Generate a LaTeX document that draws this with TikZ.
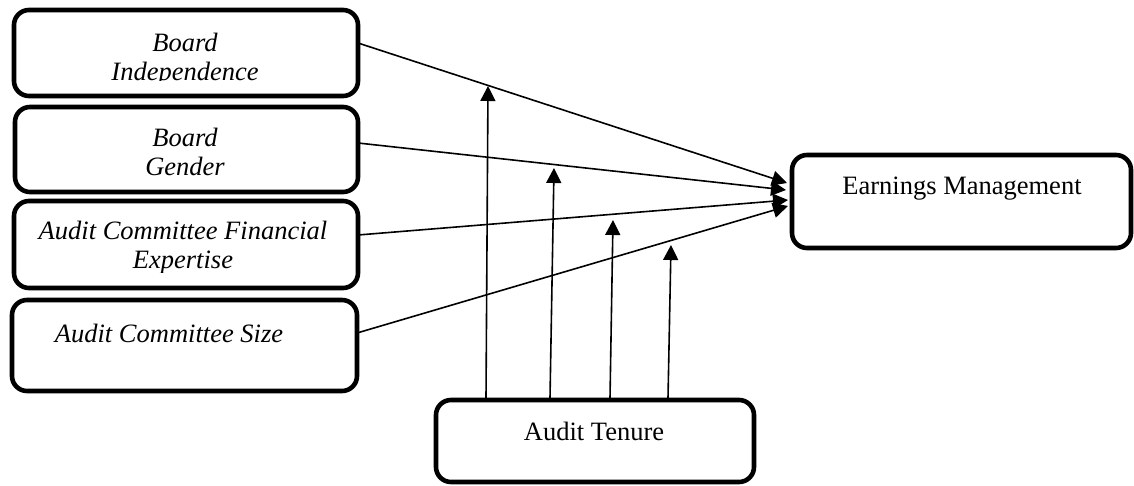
\documentclass[tikz,border=0pt]{standalone}
\usepackage{fontspec}
\setmainfont{Liberation Serif}
\usetikzlibrary{arrows.meta}
\begin{document}
\begin{tikzpicture}[x=1pt,y=-1pt,
  box/.style={draw, line width=4.6pt, rounded corners=15pt, inner sep=0pt},
  lbl/.style={anchor=base, inner sep=0pt, font=\fontsize{26.5}{30}\selectfont},
  ilbl/.style={lbl, font=\fontsize{26.5}{30}\selectfont\itshape},
  conn/.style={line width=1.6pt, -{Triangle[length=15pt,width=15pt]}}]
\useasboundingbox (0,0) rectangle (1134,486);
% boxes
\node[box, minimum width=344pt, minimum height=86pt] (b1) at (186,53) {};
\node[box, minimum width=343pt, minimum height=85pt] (b2) at (186.5,149.5) {};
\node[box, minimum width=344pt, minimum height=87pt] (b3) at (186,244.5) {};
\node[box, minimum width=345pt, minimum height=91pt] (b4) at (184.5,345.5) {};
\node[box, minimum width=339pt, minimum height=93pt] (em) at (961.5,201.5) {};
\node[box, minimum width=318pt, minimum height=82pt] (at) at (595,441) {};
% texts
\begin{scope}
\clip (14,10) rectangle (358,81);
\node[ilbl] (t1a) at (185,52) {Board};
\node[ilbl] (t1b) at (185,81) {Independence};
\end{scope}
\begin{scope}
\clip (15,107) rectangle (358,178);
\node[ilbl] (t2a) at (185,147) {Board};
\node[ilbl] (t2b) at (185,176) {Gender};
\end{scope}
\begin{scope}
\clip (14,201) rectangle (358,272);
\node[ilbl] (t3a) at (183,240) {Audit Committee Financial};
\node[ilbl] (t3b) at (183,269) {Expertise};
\end{scope}
\node[ilbl] (t4) at (169,342) {Audit Committee Size};
\node[lbl] (tem) at (962,195) {Earnings Management};
\node[lbl] (tat) at (594,440) {Audit Tenure};
% connector anchor points
\coordinate (s1) at (358,43);
\coordinate (s2) at (358,143);
\coordinate (s3) at (358,235);
\coordinate (s4) at (357,333);
\coordinate (e1) at (787,183);
\coordinate (e2) at (786,190);
\coordinate (e3) at (788,200);
\coordinate (e4) at (788,206);
\draw[conn] (s1) -- (e1);
\draw[conn] (s2) -- (e2);
\draw[conn] (s3) -- (e3);
\draw[conn] (s4) -- (e4);
% moderator arrows
\coordinate (u1) at (486,398);
\coordinate (u2) at (550,398);
\coordinate (u3) at (610,398);
\coordinate (u4) at (668,398);
\coordinate (m1) at (488,86);
\coordinate (m2) at (554,168);
\coordinate (m3) at (613,220);
\coordinate (m4) at (671,245);
\draw[conn] (u1) -- (m1);
\draw[conn] (u2) -- (m2);
\draw[conn] (u3) -- (m3);
\draw[conn] (u4) -- (m4);
\end{tikzpicture}
\end{document}
